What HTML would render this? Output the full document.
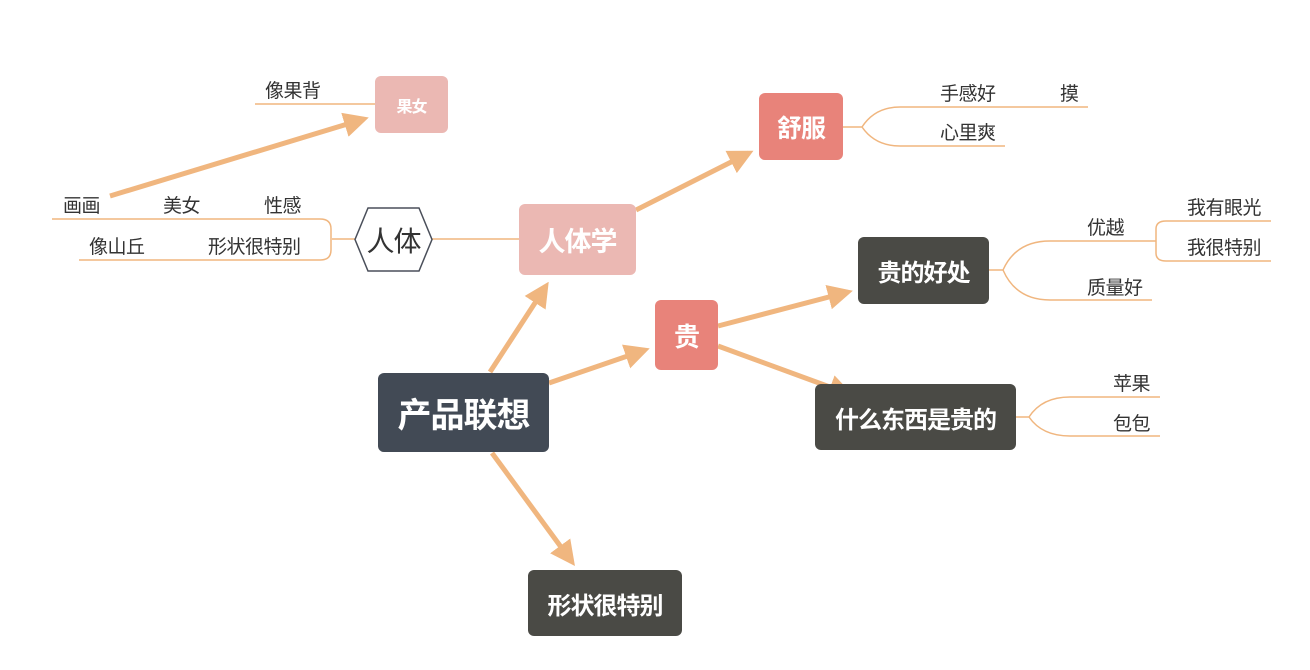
<!DOCTYPE html>
<html><head><meta charset="utf-8"><style>
body{margin:0;width:1310px;height:670px;background:#fff;position:relative;overflow:hidden;font-family:"Liberation Sans","Noto Sans CJK SC",sans-serif}
.n{position:absolute;display:flex;align-items:center;justify-content:center;color:#fff;font-weight:bold;border-radius:6px;letter-spacing:-1px}
.t{position:absolute;font-size:19px;color:#333;line-height:20px;white-space:nowrap;letter-spacing:-0.5px}
svg{position:absolute;left:0;top:0}
</style></head><body>
<svg width="1310" height="670" viewBox="0 0 1310 670">
<defs><marker id="a" markerWidth="5" markerHeight="5" refX="4" refY="2.5" orient="auto" markerUnits="strokeWidth"><path d="M0,0 L5,2.5 L0,5 z" fill="#f0b67f"/></marker></defs>
<g stroke="#f0b67f" stroke-width="5" fill="none" marker-end="url(#a)">
<line x1="490" y1="372" x2="546" y2="286"/>
<line x1="549" y1="383" x2="645" y2="350"/>
<line x1="492" y1="453" x2="572" y2="562"/>
<line x1="636" y1="210" x2="749" y2="153"/>
<line x1="718" y1="326" x2="848" y2="292"/>
<line x1="718" y1="346" x2="849" y2="394"/>
<line x1="110" y1="196" x2="364" y2="119"/>
</g>
<g stroke="#f0b67f" stroke-width="1.5" fill="none">
<line x1="519" y1="239" x2="432" y2="239"/>
<path d="M355,239 H332 M52,219 H320 Q331,219 331,229 V250 Q331,260 320,260 H79"/>
<line x1="255" y1="104" x2="375" y2="104"/>
<path d="M843,127 H862 Q875,107 900,107 H1088 M862,127 Q875,146 900,146 H1005"/>
<path d="M989,270 H1003 Q1016,241 1050,241 H1156 M1003,270 Q1016,300 1050,300 H1152"/>
<path d="M1156,241 V229 Q1156,221 1166,221 H1271 M1156,241 V253 Q1156,261 1166,261 H1271"/>
<path d="M1016,417 H1029 Q1042,397 1070,397 H1160 M1029,417 Q1042,436 1070,436 H1160"/>
</g>
<polygon points="368,208 419,208 432,239.5 419,271 368,271 355,239.5" fill="#fff" stroke="#4a4f5a" stroke-width="1.5"/>
</svg>
<div class="n" style="left:375px;top:76px;width:73px;height:57px;background:#ebb8b3;font-size:16px">果女</div>
<div class="n" style="left:355px;top:208px;width:77px;height:63px;color:#333;font-weight:normal;font-size:28px">人体</div>
<div class="n" style="left:519px;top:204px;width:117px;height:71px;background:#ebb8b3;font-size:27px">人体学</div>
<div class="n" style="left:759px;top:93px;width:84px;height:67px;background:#e8837a;font-size:25px">舒服</div>
<div class="n" style="left:655px;top:300px;width:63px;height:70px;background:#e8837a;font-size:26px">贵</div>
<div class="n" style="left:378px;top:373px;width:171px;height:79px;background:#424a55;font-size:34px">产品联想</div>
<div class="n" style="left:858px;top:237px;width:131px;height:67px;background:#4a4a45;font-size:24px">贵的好处</div>
<div class="n" style="left:815px;top:384px;width:201px;height:66px;background:#4a4a45;font-size:24px">什么东西是贵的</div>
<div class="n" style="left:528px;top:570px;width:154px;height:66px;background:#4a4a45;font-size:24px">形状很特别</div>
<div class="t" style="left:265px;top:82px">像果背</div>
<div class="t" style="left:63px;top:197px">画画</div>
<div class="t" style="left:163px;top:197px">美女</div>
<div class="t" style="left:264px;top:197px">性感</div>
<div class="t" style="left:89px;top:238px">像山丘</div>
<div class="t" style="left:208px;top:238px">形状很特别</div>
<div class="t" style="left:940px;top:85px">手感好</div>
<div class="t" style="left:1060px;top:85px">摸</div>
<div class="t" style="left:940px;top:124px">心里爽</div>
<div class="t" style="left:1087px;top:219px">优越</div>
<div class="t" style="left:1187px;top:199px">我有眼光</div>
<div class="t" style="left:1187px;top:239px">我很特别</div>
<div class="t" style="left:1087px;top:279px">质量好</div>
<div class="t" style="left:1113px;top:375px">苹果</div>
<div class="t" style="left:1113px;top:415px">包包</div>
</body></html>
